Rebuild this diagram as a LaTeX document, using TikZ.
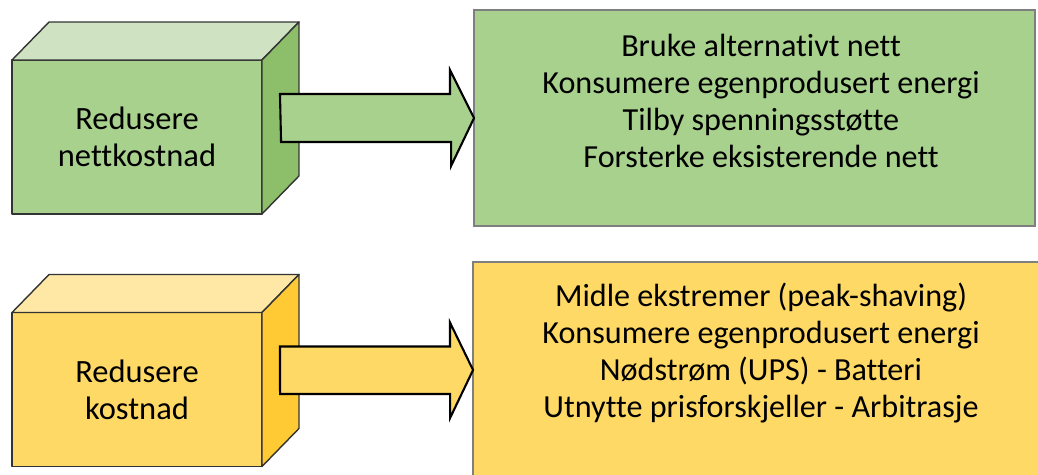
\documentclass[tikz,border=0pt]{standalone}
\usepackage{fontspec}
\setmainfont[Ligatures=NoCommon]{Carlito}
\usetikzlibrary{calc,positioning}
\definecolor{greenFront}{HTML}{A9D18E}
\definecolor{greenTop}{HTML}{CFE3C2}
\definecolor{greenSide}{HTML}{8DBF6B}
\definecolor{yellowFront}{HTML}{FFD966}
\definecolor{yellowTop}{HTML}{FFE8A6}
\definecolor{yellowSide}{HTML}{FFCA33}
\definecolor{faceline}{HTML}{333333}
\definecolor{listline}{HTML}{7F7F7F}
\tikzset{
  face/.style={draw=faceline, line width=0.8pt, line join=round},
  front/.style={face, minimum width=5cm, minimum height=3.08cm, inner sep=0pt, outer sep=0pt,
    align=center, font=\fontsize{18.5}{21}\selectfont},
  listbox/.style={draw=listline, line width=0.9pt, minimum height=4.32cm, inner sep=0pt, outer sep=0pt},
  listtext/.style={align=center, font=\fontsize{18.3}{21}\selectfont},
  arrowline/.style={draw=black, line width=1.2pt, line join=miter}
}

\begin{document}
\begin{tikzpicture}[x=0.02cm, y=-0.02cm]
		%%%%% START %%%%%
		\useasboundingbox (0,0) rectangle (1038,474);
		\clip (0,0) rectangle (1038,474);
		
		% nettkostnad
		\node[front, fill=greenFront] (netF) at (137,137) {Redusere\\nettkostnad};
		\draw[face, fill=greenTop] (netF.north west) -- ++(37,-38) -- ($(netF.north east)+(37,-38)$) -- (netF.north east) -- cycle;
		\draw[face, fill=greenSide] (netF.north east) -- ++(37,-38) -- ($(netF.south east)+(37,-38)$) -- (netF.south east) -- cycle;
		\coordinate (netA) at ($(netF.east)+(18,-19)$);
		
		\node[listbox, fill=greenFront, minimum width=11.22cm] (netL) at (754.5,118) {};
		\node[listtext] (netT) at (761,101) {Bruke alternativt nett\\Konsumere egenprodusert energi\\Tilby spenningsstøtte\\Forsterke eksisterende nett};
		
		\draw[arrowline, fill=greenFront] (netA) ++(0,-24) -- ++(170,0) -- ++(0,-24) -- (netL.west) -- ++(-23,48) -- ++(0,-24) -- ++(-170,0) -- cycle;
		
		% kostnad
		\node[front, fill=yellowFront] (kostF) at (137,389.5) {Redusere\\kostnad};
		\draw[face, fill=yellowTop] (kostF.north west) -- ++(37,-38) -- ($(kostF.north east)+(37,-38)$) -- (kostF.north east) -- cycle;
		\draw[face, fill=yellowSide] (kostF.north east) -- ++(37,-38) -- ($(kostF.south east)+(37,-38)$) -- (kostF.south east) -- cycle;
		\coordinate (kostA) at ($(kostF.east)+(18,-19)$);
		
		\node[listbox, fill=yellowFront, minimum width=11.4cm] (kostL) at (758,370) {};
		\node[listtext] (kostT) at (761,353) {Midle ekstremer (peak-shaving)\\Konsumere egenprodusert energi\\Nødstrøm (UPS) - Batteri\\Utnytte prisforskjeller - Arbitrasje};
		
		\draw[arrowline, fill=yellowFront] (kostA) ++(0,-24) -- ++(170,0) -- ++(0,-24) -- (kostL.west) -- ++(-23,48) -- ++(0,-24) -- ++(-170,0) -- cycle;
		
		%%%%% END %%%%%
\end{tikzpicture}
\end{document}
